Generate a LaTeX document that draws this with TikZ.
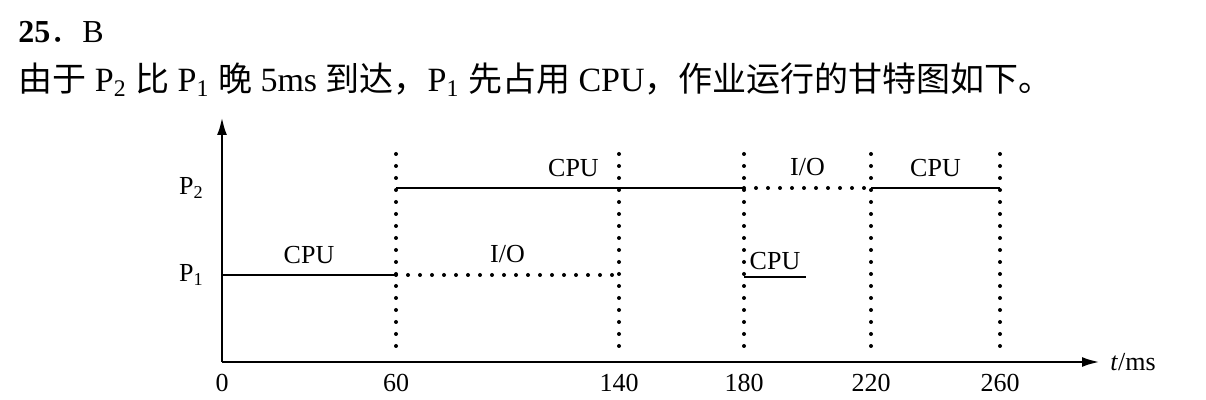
\documentclass[tikz,border=0pt]{standalone}
\usepackage{fontspec}
\setmainfont{Liberation Serif}
\newfontfamily\cjk{Noto Sans CJK SC}
\usetikzlibrary{arrows,arrows.meta,positioning}

\begin{document}
\begin{tikzpicture}[x=0.5pt,y=-0.5pt]
\tikzstyle{axis}=[line width=1.4pt,-{Latex[length=9pt,width=5pt]}]
\tikzstyle{run}=[line width=1.2pt]
\tikzstyle{wait}=[line width=2pt,line cap=round,dash pattern=on 0pt off 6pt]
\tikzstyle{lbl}=[font=\fontsize{13}{15}\selectfont,inner sep=1pt]
\useasboundingbox (0,0) rectangle (1206,400);

% heading lines
\node[anchor=west,inner sep=0pt,font=\fontsize{16}{19}\selectfont] (title) at (18,32)
  {\textbf{25}{\cjk ．}B};
\node[anchor=west,inner sep=0pt,font=\fontsize{17}{20}\selectfont] (intro) at (18,80)
  {{\cjk 由于} P\textsubscript{2} {\cjk 比} P\textsubscript{1} {\cjk 晚} 5ms {\cjk 到达，}P\textsubscript{1} {\cjk 先占用} CPU{\cjk ，作业运行的甘特图如下。}};

% axes
\coordinate (o) at (222,362);
\coordinate (ytop) at (222,117);
\coordinate (xend) at (1100,362);
\draw[axis] (o) -- (ytop);
\draw[axis] (o) -- (xend);
\node[lbl,right=4pt of xend] (tms) {\textit{t}/ms};
\node[lbl,below=5pt of o] (t0) {0};

% time marks with dotted verticals
\foreach \t/\x in {60/396,140/619,180/744,220/871,260/1000}{
  \coordinate (top\t) at (\x,154);
  \coordinate (bot\t) at (\x,352);
  \coordinate (ax\t) at (\x,362);
  \node[lbl,below=5pt of ax\t] (t\t) {\t};
  \draw[wait] (top\t) -- (bot\t);
}

% process rows
\coordinate (p1) at (222,275);
\coordinate (p2) at (222,188);
\node[lbl,left=8pt of p1] (P1) {P\textsubscript{1}};
\node[lbl,left=8pt of p2] (P2) {P\textsubscript{2}};

\coordinate (a60) at (396,275);
\coordinate (a140) at (619,275);
\coordinate (b60) at (396,188);
\coordinate (b180) at (744,188);
\coordinate (b220) at (871,188);
\coordinate (b260) at (1000,188);
\coordinate (c180) at (744,277);
\coordinate (c200) at (806,277);

\draw[run] (p1) -- (a60) node[lbl,midway,above=4pt] (cpu1) {CPU};
\draw[wait] (a60) -- (a140) node[lbl,midway,above=4pt] (io1) {I/O};
\draw[run] (b60) -- (b180) node[lbl,pos=0.51,above=4pt] (cpu2) {CPU};
\draw[wait] (b180) -- (b220) node[lbl,midway,above=4pt] (io2) {I/O};
\draw[run] (b220) -- (b260) node[lbl,midway,above=4pt] (cpu3) {CPU};
\draw[run] (c180) -- (c200) node[lbl,midway,above=2pt] (cpu4) {CPU};

\end{tikzpicture}
\end{document}
